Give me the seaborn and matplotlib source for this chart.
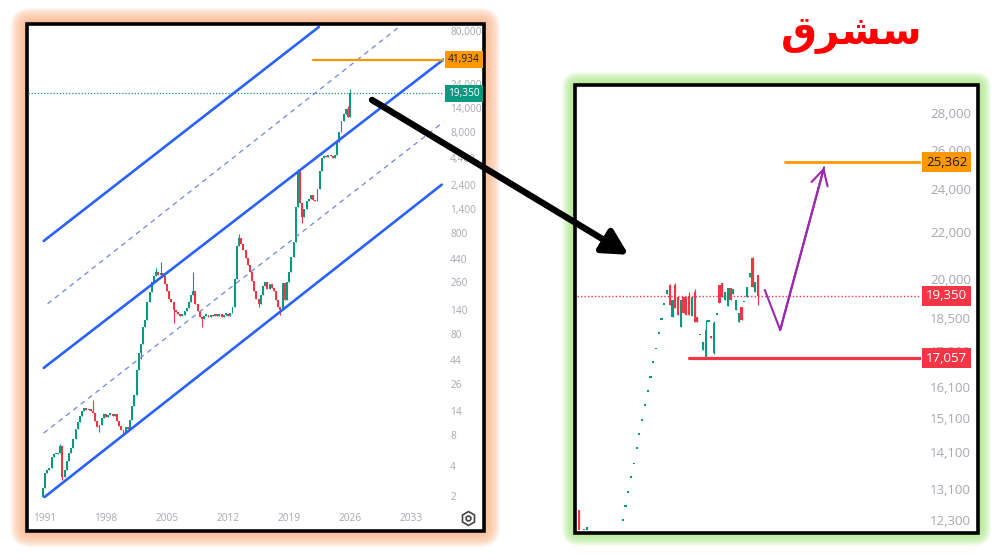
import numpy as np
import pandas as pd
import matplotlib
matplotlib.use("Agg")
import matplotlib.pyplot as plt
import matplotlib.transforms as mtransforms
from matplotlib.patches import FancyBboxPatch, ConnectionPatch
from matplotlib.lines import Line2D
from matplotlib.ticker import NullLocator
import seaborn as sns

# ---------------- data : left chart (quarterly candles, log scale) ----------------
left_start_year = 1990.75
left_closes = [
    2.4, 3.4, 3.6, 3.8, 4.9, 5.2, 5.2, 5.3, 6.3, 3.1, 3.6, 4.4,
    5.3, 6.0, 7.4, 9.2, 10.8, 12.3, 14.0, 14.8, 14.2, 14.5, 14.0, 13.2,
    11.0, 9.6, 10.2, 11.8, 12.9, 12.2, 12.8, 13.0, 12.5, 12.9, 11.0, 9.8,
    9.0, 8.7, 9.6, 9.2, 11.3, 15.5, 20.0, 35, 52, 64, 95, 110,
    165, 210, 265, 300, 330, 310, 320, 300, 250, 215, 180, 165,
    140, 133, 128, 122, 125, 135, 146, 166, 195, 215, 160, 135,
    118, 112, 122, 125, 118, 125, 120, 128, 122, 126, 119, 124,
    128, 122, 130, 150, 280, 600, 720, 620, 550, 450, 390, 330,
    270, 215, 180, 160, 195, 240, 260, 225, 250, 230, 215, 175,
    150, 140, 255, 175, 260, 330, 470, 650, 1450, 3300, 1600, 1150,
    1400, 1650, 1750, 1900, 1700, 1650, 2200, 3300, 4400, 4700, 4500, 4800,
    4600, 4400, 4800, 6400, 8000, 10400, 12000, 13500, 11200, 19350,
]
left_first_open = 1.95
left_high_wicks = {8: 6.6, 23: 17.9, 52: 360, 54: 415, 69: 334, 90: 790,
                   117: 3450, 140: 14500, 141: 21200}
left_low_wicks = {9: 2.9, 26: 8.6, 37: 8.4, 45: 45, 60: 103, 73: 95,
                  99: 148, 109: 125, 119: 1000}

left_yticks = [80000, 24000, 14000, 8000, 4400, 2400, 1400, 800, 440, 260,
               140, 80, 44, 26, 14, 8, 4, 2]
left_xticks = [1991, 1998, 2005, 2012, 2019, 2026, 2033]

# channel lines: (years, prices)
channel_solid = {
    "upper": ([1990.85, 2022.4], [670, 88000]),
    "middle": ([1990.85, 2036.7], [37.1, 41934]),
    "lower": ([1990.95, 2036.5], [1.955, 2418]),
}
channel_dashed = {
    "upper_mid": ([1991.3, 2031.6], [160, 88000]),
    "lower_mid": ([1990.85, 2036.7], [8.4, 10090]),
}
left_target = 41934
left_target_from = 2021.7
last_price = 19350

# ---------------- data : right chart (daily candles, log scale) ----------------
right_bar_index = [-16, -14, -13] + list(range(50))
right_opens = [12547, 11900, 11900,
               12272, 12628, 12993, 13387, 13770, 14196, 14604, 15025,
               15487, 15929, 16386, 16892, 17374, 17911, 18430, 18993,
               19420, 19776, 18538, 19776, 19300, 18166, 19300, 19300,
               19350, 18580, 19496, 18538, 17870, 17341, 17057, 18351,
               17830, 17236, 18614, 19776, 19850, 19185, 18950, 19650,
               19420, 18800, 18351, 18917, 19100, 19300, 20093, 20883,
               19500, 20180]
right_closes = [11700, 12080, 12120,
                12272, 12628, 12993, 13387, 13770, 14196, 14604, 15025,
                15487, 15929, 16386, 16892, 17374, 17911, 18430, 18993,
                19583, 18993, 19185, 18880, 18620, 19185, 18687, 18620,
                18620, 19300, 18351, 18351, 17870, 17625, 18057, 18351,
                17770, 18320, 18614, 19070, 19300, 19496, 19650, 19185,
                19600, 19185, 18687, 18430, 19100, 19700, 20262, 19700,
                19900, 19350]
right_high_wicks = {17: 19800, 19: 19850, 24: 19500, 26: 19600, 30: 18430,
                    33: 18380, 47: 20950}
right_low_wicks = {30: 17057, 33: 17200, 49: 19000}

right_yticks = [28000, 26000, 24000, 22000, 20000, 18500, 17300, 16100,
                15100, 14100, 13100, 12300]
right_target = 25362
right_target_from = 58.7
right_support = 17057
right_support_from = 23.9
scenario_idx = [51.4, 57.0, 72.9]
scenario_price = [19583, 18057, 25090]

title_text = "سشرق"

# ---------------- style ----------------
GREEN = "#089981"
RED = "#F23645"
ORANGE = "#FF9800"
BLUE = "#2962FF"
DASHBLUE = "#6f86e0"
PURPLE = "#9C27B0"
TICKGREY = "#a6a9b1"

sns.set_theme(style="white")
plt.rcParams["font.family"] = ["Open Sans", "DejaVu Sans"]

W, H = 1000, 555
fig = plt.figure(figsize=(W / 100, H / 100), dpi=100)
fig.patch.set_facecolor("white")


def px_box(x0, y0, x1, y1):
    return x0 / 100, (H - y1) / 100, (x1 - x0) / 100, (y1 - y0) / 100


def frame(x0, y0, x1, y1, glow_color, spread, layers=12):
    for k in range(layers):
        pad = spread * (layers - k) / layers
        bx, by, bw, bh = px_box(x0 - pad, y0 - pad, x1 + pad, y1 + pad)
        fig.add_artist(FancyBboxPatch(
            (bx, by), bw, bh,
            boxstyle=f"round,pad=0,rounding_size={(pad + 4) / 100}",
            transform=fig.dpi_scale_trans, fc=glow_color, ec="none",
            alpha=0.13, zorder=-3))
    bx, by, bw, bh = px_box(x0, y0, x1, y1)
    fig.add_artist(FancyBboxPatch(
        (bx, by), bw, bh, boxstyle="square,pad=0",
        transform=fig.dpi_scale_trans, fc="white", ec="black", lw=2.6,
        zorder=-1))


frame(26.5, 24, 484, 531, "#FCB586", 16)
frame(575, 85, 978, 532.5, "#A9E883", 13)


def draw_candles(ax, xs, opens, closes, highs, lows, width, min_ratio, wick_lw):
    xs = np.asarray(xs, float)
    o = np.asarray(opens, float)
    c = np.asarray(closes, float)
    hi = np.asarray(highs, float)
    lo = np.asarray(lows, float)
    cols = np.where(c >= o, GREEN, RED)
    bot = np.minimum(o, c)
    top = np.maximum(np.maximum(o, c), bot * min_ratio)
    ax.vlines(xs, lo, hi, colors=cols, lw=wick_lw, zorder=3)
    ax.bar(xs, top - bot, bottom=bot, width=width, color=cols, lw=0, zorder=3)


# ---------------- left chart ----------------
ax1 = fig.add_axes([28 / W, 1 - 505 / H, 416 / W, 479 / H])
ax1.set_facecolor("none")
ax1.set_yscale("log")

n = len(left_closes)
lx = left_start_year + 0.25 * np.arange(n)
lo_ = [left_first_open] + left_closes[:-1]
lh = [max(left_high_wicks.get(i, 0), lo_[i], left_closes[i]) for i in range(n)]
ll = [min(left_low_wicks.get(i, 1e12), lo_[i], left_closes[i]) for i in range(n)]
draw_candles(ax1, lx, lo_, left_closes, lh, ll, 0.22, 1.035, 0.8)

for name, (yrs, prs) in channel_solid.items():
    sns.lineplot(x=yrs, y=prs, ax=ax1, color=BLUE, lw=1.9, zorder=4)
for name, (yrs, prs) in channel_dashed.items():
    sns.lineplot(x=yrs, y=prs, ax=ax1, color=DASHBLUE, lw=0.9, zorder=4,
                 dashes=False, linestyle=(0, (4, 3.5)))

ax1.axhline(last_price, color=GREEN, lw=0.9, ls=(0, (1, 1.5)), zorder=2)
sns.lineplot(x=[left_target_from, 2036.76], y=[left_target, left_target],
             ax=ax1, color=ORANGE, lw=1.6, zorder=4)

ax1.set_xlim(1989.05, 2036.76)
ax1.set_ylim(1.63, 90000)
for s in ax1.spines.values():
    s.set_visible(False)
ax1.yaxis.tick_right()
ax1.set_yticks(left_yticks)
ax1.set_yticklabels([f"{v:,}" for v in left_yticks])
ax1.yaxis.set_minor_locator(NullLocator())
ax1.set_xticks(left_xticks)
ax1.set_xticklabels([str(v) for v in left_xticks])
ax1.tick_params(axis="y", length=0, pad=4.5, labelsize=7.3, labelcolor=TICKGREY)
ax1.tick_params(axis="x", length=0, pad=6, labelsize=7.3, labelcolor=TICKGREY)
ax1.grid(False)
ax1.set_xlabel("")
ax1.set_ylabel("")

tr1 = mtransforms.blended_transform_factory(ax1.transAxes, ax1.transData)
ax1.annotate(f"{left_target:,}", xy=(1, left_target), xycoords=tr1,
             xytext=(4, 0), textcoords="offset pixels", ha="left", va="center",
             fontsize=7.3, color="#1a1a1a",
             bbox=dict(boxstyle="square,pad=0.3", fc=ORANGE, ec="none"), zorder=6)
ax1.annotate(f"{last_price:,}", xy=(1, last_price), xycoords=tr1,
             xytext=(4, 0), textcoords="offset pixels", ha="left", va="center",
             fontsize=7.3, color="white",
             bbox=dict(boxstyle="square,pad=0.3", fc=GREEN, ec="none"), zorder=6)

# settings icon
gx, gy = 4.68, (H - 518) / 100
fig.add_artist(Line2D([gx], [gy], transform=fig.dpi_scale_trans, marker="h",
                      ms=10, mfc="none", mec="#444444", mew=1.2))
fig.add_artist(Line2D([gx], [gy], transform=fig.dpi_scale_trans, marker="o",
                      ms=3.5, mfc="none", mec="#444444", mew=1.2))

# ---------------- right chart ----------------
ax2 = fig.add_axes([577 / W, 1 - 530 / H, 344 / W, 443 / H])
ax2.set_facecolor("none")
ax2.set_yscale("log")

rh = [max(right_high_wicks.get(b, 0), o, c)
      for b, o, c in zip(right_bar_index, right_opens, right_closes)]
rl = [min(right_low_wicks.get(b, 1e12), o, c)
      for b, o, c in zip(right_bar_index, right_opens, right_closes)]
draw_candles(ax2, right_bar_index, right_opens, right_closes, rh, rl,
             0.8, 1.0032, 0.9)

ax2.axhline(last_price, color=RED, lw=1.0, ls=(0, (1, 1.5)), zorder=2)
sns.lineplot(x=[right_target_from, 108.0], y=[right_target, right_target],
             ax=ax2, color=ORANGE, lw=2.0, zorder=4)
sns.lineplot(x=[right_support_from, 108.0], y=[right_support, right_support],
             ax=ax2, color=RED, lw=2.3, zorder=4)
sns.lineplot(x=scenario_idx, y=scenario_price, ax=ax2, color=PURPLE, lw=1.5,
             sort=False, zorder=5)
ax2.annotate("", xy=(scenario_idx[-1], scenario_price[-1]),
             xytext=(scenario_idx[-2], scenario_price[-2]),
             arrowprops=dict(arrowstyle="->,head_length=0.55,head_width=0.3",
                             color=PURPLE, lw=1.5, mutation_scale=20,
                             shrinkA=0, shrinkB=0), zorder=5)

ax2.set_xlim(-16.6, 108.0)
ax2.set_ylim(12052, 29515)
for s in ax2.spines.values():
    s.set_visible(False)
ax2.yaxis.tick_right()
ax2.set_yticks(right_yticks)
ax2.set_yticklabels([f"{v:,}" for v in right_yticks])
ax2.yaxis.set_minor_locator(NullLocator())
ax2.set_xticks([])
ax2.tick_params(axis="y", length=0, pad=6.5, labelsize=9.5, labelcolor=TICKGREY)
ax2.grid(False)
ax2.set_xlabel("")
ax2.set_ylabel("")

tr2 = mtransforms.blended_transform_factory(ax2.transAxes, ax2.transData)
for val, fc, tc in [(right_target, ORANGE, "#1a1a1a"),
                    (last_price, RED, "white"),
                    (right_support, RED, "white")]:
    ax2.annotate(f"{val:,}", xy=(1, val), xycoords=tr2, xytext=(5, 0),
                 textcoords="offset pixels", ha="left", va="center",
                 fontsize=9.5, color=tc,
                 bbox=dict(boxstyle="square,pad=0.28", fc=fc, ec="none"),
                 zorder=6)

# ---------------- connecting arrow ----------------
con = ConnectionPatch(xyA=(2028.5, 16670), coordsA=ax1.transData,
                      xyB=(2.07, 21025), coordsB=ax2.transData,
                      arrowstyle="-|>,head_length=0.75,head_width=0.4",
                      mutation_scale=20, lw=4.6, color="black", zorder=10)
fig.add_artist(con)

# ---------------- title (Arabic, shaped into presentation forms) ----------------
FORMS = {
    "س": ("\uFEB1", "\uFEB2", "\uFEB3", "\uFEB4"),
    "ش": ("\uFEB5", "\uFEB6", "\uFEB7", "\uFEB8"),
    "ر": ("\uFEAD", "\uFEAE", None, None),
    "ق": ("\uFED5", "\uFED6", "\uFED7", "\uFED8"),
}


def shape_arabic(word):
    out = []
    for i, ch in enumerate(word):
        f = FORMS[ch]
        prev_joins = i > 0 and FORMS[word[i - 1]][2] is not None
        next_joins = i < len(word) - 1 and f[2] is not None
        if prev_joins and next_joins:
            g = f[3]
        elif prev_joins:
            g = f[1]
        elif next_joins:
            g = f[2]
        else:
            g = f[0]
        out.append(g)
    return "".join(reversed(out))


fig.text(852 / W, 1 - 34 / H, shape_arabic(title_text), color="#FF0000",
         fontsize=29, fontweight="bold", family=["DejaVu Sans"],
         ha="center", va="center")

fig.savefig("out.png", dpi=100, facecolor="white")
